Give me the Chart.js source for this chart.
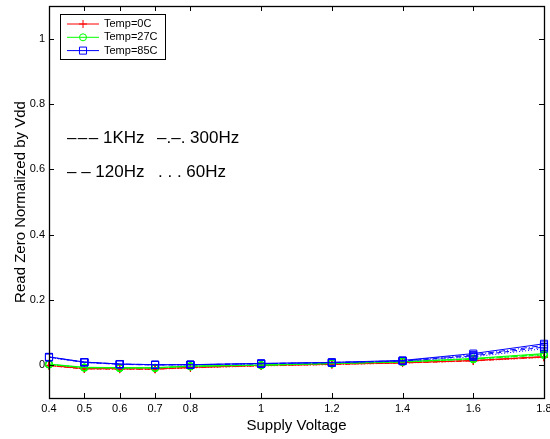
<!DOCTYPE html>
<html>
<head>
<meta charset="utf-8">
<script src="https://cdn.jsdelivr.net/npm/chart.js@4.4.0/dist/chart.umd.min.js"></script>
<style>
  html, body { margin: 0; padding: 0; background: #fff; }
  #box { width: 550px; height: 439px; }
</style>
</head>
<body>
<div id="box"><canvas id="grafico"></canvas></div>
<script>
const VOLTS = [0.4, 0.5, 0.6, 0.7, 0.8, 1.0, 1.2, 1.4, 1.6, 1.8];
const X_TICKS = [0.4, 0.5, 0.6, 0.7, 0.8, 1.0, 1.2, 1.4, 1.6, 1.8];
const Y_TICKS = [0, 0.2, 0.4, 0.6, 0.8, 1.0];

const FREQS = ['1KHz', '300Hz', '120Hz', '60Hz'];
const DASHES = [[], [6, 2, 1, 2], [5, 3], [1, 2]];

const TEMPS = ['Temp=0C', 'Temp=27C', 'Temp=85C'];
const CORES = ['#ff0000', '#00ff00', '#0000ff'];
const MARCAS = ['cross', 'circle', 'rect'];
const RAIOS = [4, 3.5, 5];

// leitura zero normalizada, uma linha por frequencia (1KHz, 300Hz, 120Hz, 60Hz)
const T0C = [
  [0.000, -0.010, -0.010, -0.011, -0.006, 0.000, 0.004, 0.008, 0.015, 0.027],
  [0.000, -0.010, -0.011, -0.011, -0.007, -0.001, 0.003, 0.008, 0.014, 0.026],
  [-0.001, -0.011, -0.011, -0.012, -0.007, -0.001, 0.003, 0.007, 0.014, 0.025],
  [-0.001, -0.011, -0.012, -0.012, -0.008, -0.002, 0.002, 0.007, 0.013, 0.024],
];
const T27C = [
  [0.004, -0.006, -0.007, -0.007, -0.002, 0.001, 0.006, 0.011, 0.021, 0.036],
  [0.003, -0.007, -0.008, -0.008, -0.003, 0.001, 0.006, 0.011, 0.020, 0.034],
  [0.003, -0.007, -0.008, -0.008, -0.003, 0.000, 0.005, 0.010, 0.019, 0.032],
  [0.002, -0.008, -0.009, -0.009, -0.004, 0.000, 0.005, 0.010, 0.018, 0.031],
];
const T85C = [
  [0.026, 0.010, 0.004, 0.002, 0.002, 0.006, 0.009, 0.015, 0.036, 0.066],
  [0.025, 0.010, 0.004, 0.002, 0.002, 0.005, 0.009, 0.014, 0.032, 0.061],
  [0.025, 0.009, 0.003, 0.001, 0.002, 0.005, 0.008, 0.013, 0.029, 0.056],
  [0.024, 0.009, 0.003, 0.001, 0.001, 0.005, 0.008, 0.013, 0.026, 0.051],
];
const SERIES = [T0C, T27C, T85C];

const FONTE = "'Liberation Sans', Arial, Helvetica, sans-serif";

const datasets = [];
SERIES.forEach((linhas, t) => {
  linhas.forEach((valores, f) => {
    datasets.push({
      label: TEMPS[t] + ' ' + FREQS[f],
      data: VOLTS.map((v, i) => ({ x: v, y: valores[i] })),
      borderColor: CORES[t],
      borderWidth: 1,
      borderDash: DASHES[f],
      pointStyle: MARCAS[t],
      pointRadius: RAIOS[t],
      pointBorderColor: CORES[t],
      pointBackgroundColor: 'rgba(0,0,0,0)',
      pointBorderWidth: 1,
      tension: 0,
      fill: false,
      clip: false,
      order: 10 - t,
    });
  });
});

/* --- moldura com ticks para dentro nos quatro lados --- */
const moldura = {
  id: 'moldura',
  afterDraw(chart) {
    const { ctx, chartArea: a, scales } = chart;
    const tl = 5;
    ctx.save();
    ctx.strokeStyle = '#000';
    ctx.lineWidth = 1;
    ctx.beginPath();
    X_TICKS.forEach(v => {
      const px = Math.round(scales.x.getPixelForValue(v)) + 0.5;
      ctx.moveTo(px, a.bottom); ctx.lineTo(px, a.bottom - tl);
      ctx.moveTo(px, a.top); ctx.lineTo(px, a.top + tl);
    });
    Y_TICKS.forEach(v => {
      const py = Math.round(scales.y.getPixelForValue(v)) + 0.5;
      ctx.moveTo(a.left, py); ctx.lineTo(a.left + tl, py);
      ctx.moveTo(a.right, py); ctx.lineTo(a.right - tl, py);
    });
    ctx.stroke();
    ctx.lineWidth = 1.3;
    ctx.strokeRect(Math.round(a.left) + 0.5, Math.round(a.top) + 0.5,
      Math.round(a.right - a.left), Math.round(a.bottom - a.top));
    ctx.restore();
  }
};

/* --- legenda dentro do grafico + anotacao das frequencias --- */
const legendaInterna = {
  id: 'legendaInterna',
  afterDraw(chart) {
    const { ctx } = chart;
    ctx.save();
    ctx.fillStyle = '#fff';
    ctx.fillRect(60, 14, 105, 45);
    ctx.strokeStyle = '#000';
    ctx.lineWidth = 1;
    ctx.strokeRect(60.5, 14.5, 105, 45);
    ctx.font = '11px ' + FONTE;
    ctx.textBaseline = 'middle';
    TEMPS.forEach((nome, t) => {
      const y = 24 + t * 13.3;
      ctx.strokeStyle = CORES[t];
      ctx.lineWidth = 1;
      ctx.beginPath();
      ctx.moveTo(67, y); ctx.lineTo(99, y);
      ctx.stroke();
      ctx.fillStyle = 'rgba(0,0,0,0)';
      Chart.helpers.drawPoint(ctx, { pointStyle: MARCAS[t], radius: RAIOS[t], borderWidth: 1 }, 83, y);
      ctx.fillStyle = '#000';
      ctx.fillText(nome, 104, y);
    });
    ctx.font = '17px ' + FONTE;
    ctx.fillStyle = '#000';
    ctx.fillText('\u2013\u200a\u2013\u200a\u2013 ' + FREQS[0], 67, 138);
    ctx.fillText('\u2013.\u2013. ' + FREQS[1], 157, 138);
    ctx.fillText('\u2013 \u2013 ' + FREQS[2], 67, 172);
    ctx.fillText('. . . ' + FREQS[3], 158, 172);
    ctx.restore();
  }
};

new Chart(document.getElementById('grafico'), {
  type: 'line',
  data: { datasets },
  options: {
    responsive: true,
    maintainAspectRatio: false,
    animation: false,
    layout: { padding: { top: 6, right: 4, left: 0, bottom: 0 } },
    plugins: { legend: { display: false }, tooltip: { enabled: false } },
    scales: {
      x: {
        type: 'linear',
        min: 0.4,
        max: 1.8,
        afterBuildTicks: (s) => { s.ticks = X_TICKS.map(v => ({ value: v })); },
        afterFit: (s) => { s.height = 41; s.paddingLeft = 0; s.paddingRight = 0; },
        grid: { display: false, drawTicks: false },
        border: { display: false },
        ticks: {
          padding: 4,
          maxRotation: 0,
          autoSkip: false,
          color: '#000',
          font: { family: FONTE, size: 11 },
          callback: (v) => String(Math.round(v * 10) / 10),
        },
        title: {
          display: true,
          text: 'Supply Voltage',
          color: '#000',
          font: { family: FONTE, size: 15 },
          padding: { top: 0, bottom: 4 },
        },
      },
      y: {
        min: -0.1,
        max: 1.1,
        afterBuildTicks: (s) => { s.ticks = Y_TICKS.map(v => ({ value: v })); },
        afterFit: (s) => { s.width = 49; s.paddingTop = 0; s.paddingBottom = 0; },
        grid: { display: false, drawTicks: false },
        border: { display: false },
        ticks: {
          padding: 4,
          color: '#000',
          font: { family: FONTE, size: 11 },
          callback: (v) => String(Math.round(v * 10) / 10),
        },
        title: {
          display: true,
          text: 'Read Zero Normalized by Vdd',
          color: '#000',
          font: { family: FONTE, size: 15 },
          padding: { top: 12, bottom: 0 },
        },
      },
    },
  },
  plugins: [moldura, legendaInterna],
});
</script>
</body>
</html>
